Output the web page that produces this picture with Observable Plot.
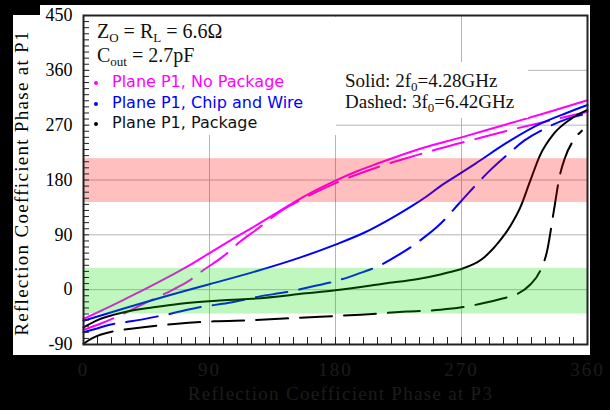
<!DOCTYPE html>
<html><head><meta charset="utf-8">
<script src="https://cdn.jsdelivr.net/npm/d3@7"></script>
<script src="https://cdn.jsdelivr.net/npm/@observablehq/plot@0.6"></script>
<style>
html,body{margin:0;padding:0;background:#000;}
#wrap{position:relative;width:610px;height:410px;overflow:hidden;}
.pane{position:absolute;background:#fff;}
.t{position:absolute;white-space:nowrap;line-height:1;}
.serif{font-family:"Liberation Serif","Times New Roman",serif;font-size:20px;color:#111;}
.sans{font-family:"DejaVu Sans",sans-serif;font-size:16px;}
.sub{font-size:13px;position:relative;top:4px;line-height:0;}
.dot{position:absolute;width:4px;height:4px;border-radius:50%;}
#chart{position:absolute;left:0;top:0;}
</style></head>
<body><div id="wrap">
<div class="pane" style="left:40px;top:5px;width:550px;height:350px"></div>
<div class="pane" style="left:13px;top:15px;width:30px;height:340px"></div>
<div id="chart"></div>
<div class="pane" style="left:90px;top:17px;width:246px;height:118px"></div>
<div class="pane" style="left:330px;top:62px;width:198px;height:56px"></div>
<div class="t serif" style="left:97px;top:21px">Z<span class="sub">O</span> = R<span class="sub">L</span> = 6.6Ω</div>
<div class="t serif" style="left:97px;top:45px">C<span class="sub">out</span> = 2.7pF</div>
<div class="t serif" style="left:345px;top:71px;font-size:19px">Solid: 2f<span class="sub">0</span>=4.28GHz</div>
<div class="t serif" style="left:345px;top:92px;font-size:19px">Dashed: 3f<span class="sub">0</span>=6.42GHz</div>
<div id="legend"></div>
</div>
<script>
// ---- axis ticks / labels ----
const xTicks = [0, 90, 180, 270, 360];
const yTicks = [-90, 0, 90, 180, 270, 360, 450];
const minorX = d3.range(0, 361, 10);
const minorY = d3.range(-90, 451, 10);
const xTitle = "Reflection Coefficient Phase at P3";
const yTitle = "Reflection Coefficient Phase at P1";

// ---- target bands (P1 phase) ----
const redBand = [143, 215];
const greenBand = [-40, 35];

// ---- legend ----
const seriesNames = ["Plane P1, No Package", "Plane P1, Chip and Wire", "Plane P1, Package"];

// ---- curves: phase at P3 (x) vs phase at P1 (y) ----
const noPkg2fX = [0, 15, 30, 45, 60, 75, 90, 105, 120, 135, 150, 165, 180, 195, 210, 240, 270, 300, 330, 360];
const noPkg2fY = [-48, -32, -15, 2, 20, 39, 60, 81, 101, 122, 143, 162, 179, 194, 207, 231, 250, 270, 290, 311];
const noPkg3fX = [0, 12, 30, 45, 63, 75, 85, 100, 112, 125, 141, 150, 165, 180, 210, 240, 255, 278, 303, 334, 360];
const noPkg3fY = [-66, -56, -38, -21, -1, 14, 31, 55, 79, 101, 129, 141, 159, 175, 201, 222, 232, 246, 261, 278, 292];
const cw2fX = [0, 30, 60, 90, 120, 155, 180, 200, 222, 235, 245, 255, 270, 280, 303, 326, 345, 360];
const cw2fY = [-51, -30, -10, 9, 28, 53, 74, 93, 120, 138, 153, 170, 192, 207, 242, 272, 290, 303];
const cw3fX = [0, 12, 22, 34, 59, 85, 103, 126, 145, 161, 180, 196, 210, 225, 240, 254, 270, 290, 303, 315, 331, 345, 360];
const cw3fY = [-70, -62, -56, -52, -41, -28, -22, -11, -4, 4, 14, 26, 38, 57, 80, 106, 146, 195, 222, 245, 266, 280, 289];
const pkg2fX = [0, 10, 29, 50, 69, 95, 120, 159, 180, 215, 240, 255, 262, 270, 284, 298, 305, 312, 319, 326, 336, 348, 360];
const pkg2fY = [-62, -50, -37, -29, -23, -18, -15, -6, -1, 10, 18, 25, 29, 34, 49, 82, 105, 135, 178, 220, 256, 280, 295];
const pkg3fX = [0, 6, 12, 22, 34, 67, 93, 120, 155, 198, 231, 255, 270, 286, 300, 310, 319, 326, 331, 336, 340, 344, 350, 356];
const pkg3fY = [-89, -80, -74, -68, -64, -56, -52, -50, -46, -41, -36, -33, -29, -22, -14, -7, 8, 30, 62, 130, 185, 217, 245, 261];

const MAGENTA = "#ff00ff", BLUE = "#0000ff", BLACK = "#000000";
const seriesColors = [MAGENTA, BLUE, BLACK];

const pts = (xs, ys) => xs.map((x, i) => ({x, y: ys[i]}));
const curve = (xs, ys, color, dashed) => Plot.line(pts(xs, ys), {
  x: "x", y: "y", stroke: color, strokeWidth: 2, curve: "monotone-x",
  strokeDasharray: dashed ? "32,12" : null
});

const chart = Plot.plot({
  width: 610, height: 410,
  marginLeft: 83, marginRight: 23, marginTop: 15, marginBottom: 66,
  x: {domain: [0, 360]},
  y: {domain: [-90, 450]},
  style: {background: "transparent", fontFamily: "'Liberation Serif', 'Times New Roman', serif", fontSize: "18px", overflow: "visible"},
  marks: [
    Plot.ruleX(xTicks.slice(1, -1), {stroke: "#b5b5b5", strokeWidth: 1}),
    Plot.ruleY(yTicks.slice(1, -1), {stroke: "#b5b5b5", strokeWidth: 1}),
    curve(pkg3fX, pkg3fY, BLACK, true),
    curve(cw3fX, cw3fY, BLUE, true),
    curve(noPkg3fX, noPkg3fY, MAGENTA, true),
    curve(pkg2fX, pkg2fY, BLACK, false),
    curve(cw2fX, cw2fY, BLUE, false),
    curve(noPkg2fX, noPkg2fY, MAGENTA, false),
    Plot.rect([redBand], {y1: d => d[0], y2: d => d[1], fill: "#ff0000", fillOpacity: 0.25}),
    Plot.rect([greenBand], {y1: d => d[0], y2: d => d[1], fill: "#00e000", fillOpacity: 0.25}),
    Plot.frame({stroke: "#222", strokeWidth: 2}),
    Plot.axisY(minorY, {anchor: "left", tickSize: -6, tickFormat: () => "", color: "#222", label: null}),
    Plot.axisX(minorX, {anchor: "bottom", tickSize: -7, tickFormat: () => "", color: "#222", label: null}),
    Plot.axisY(yTicks, {anchor: "left", tickSize: 0, tickPadding: 11, tickFormat: d => String(d), color: "#000", fontSize: 18, label: null}),
    Plot.axisX(xTicks, {anchor: "bottom", tickSize: 0, tickPadding: 18, tickFormat: d => String(d), color: "#1c1c1c", fontSize: 19, label: null}),
    Plot.text([yTitle], {text: d => d, frameAnchor: "left", dx: -62, dy: 3, rotate: -90, textAnchor: "middle", lineAnchor: "middle", fontSize: 19, fill: "#000"}),
    Plot.text([xTitle], {text: d => d, frameAnchor: "bottom", dx: 5, dy: 49, textAnchor: "middle", lineAnchor: "middle", fontSize: 19, fill: "#1c1c1c"})
  ]
});
document.getElementById("chart").appendChild(chart);

// letter spacing to mimic the wide type of the original
d3.select(chart).selectAll("text").each(function() {
  const s = this.textContent;
  if (s === xTitle || s === yTitle) this.style.letterSpacing = "1.3px";
});
d3.select(chart).selectAll('g[aria-label="x-axis tick label"] text').style("letter-spacing", "2px");

// legend
const legend = document.getElementById("legend");
const baselines = [87, 108, 128];
seriesNames.forEach((name, i) => {
  const t = document.createElement("div");
  t.className = "t sans";
  t.style.left = "112px";
  t.style.top = (baselines[i] - 13.5) + "px";
  t.style.color = i === 2 ? "#111" : seriesColors[i];
  t.textContent = name;
  legend.appendChild(t);
  const dot = document.createElement("div");
  dot.className = "dot";
  dot.style.left = "94px";
  dot.style.top = (baselines[i] - 6) + "px";
  dot.style.background = seriesColors[i];
  legend.appendChild(dot);
});
</script>
</body></html>
